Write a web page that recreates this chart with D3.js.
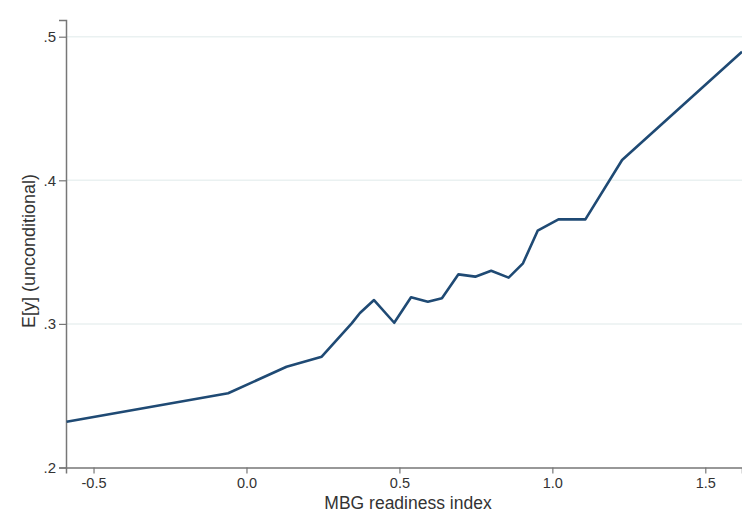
<!DOCTYPE html>
<html>
<head>
<meta charset="utf-8">
<script src="https://cdn.jsdelivr.net/npm/d3@7"></script>
<style>
  html, body { margin: 0; padding: 0; background: #fff; }
  svg { display: block; }
  text { font-family: "Liberation Sans", Arial, sans-serif; fill: #333; }
</style>
</head>
<body>
<svg id="chart" width="742" height="512"></svg>
<script>
// Data
const xValues = [-0.588, -0.060, 0.131, 0.246, 0.344, 0.371, 0.417, 0.483, 0.538, 0.593, 0.639, 0.693, 0.748, 0.800, 0.857, 0.904, 0.952, 1.020, 1.108, 1.228, 1.620];
const yValues = [0.2319, 0.2517, 0.2702, 0.2772, 0.3004, 0.3076, 0.3166, 0.3008, 0.3185, 0.3155, 0.3178, 0.3345, 0.3329, 0.3370, 0.3322, 0.3422, 0.3649, 0.3728, 0.3728, 0.4141, 0.4896];
const xTicks = [-0.5, 0.0, 0.5, 1.0, 1.5];
const xTickLabels = ["-0.5", "0.0", "0.5", "1.0", "1.5"];
const yTicks = [0.2, 0.3, 0.4, 0.5];
const yTickLabels = [".2", ".3", ".4", ".5"];
const xTitle = "MBG readiness index";
const yTitle = "E[y] (unconditional)";

const svg = d3.select("#chart");
const mLeft = 66, mRight = 742, mBottom = 467.5, mTop = 20;

const x = d3.scaleLinear().domain([-0.59, 1.62]).range([mLeft, mRight]);
const y = d3.scaleLinear().domain([0.2, 0.2 + (mBottom - mTop) / 1436]).range([mBottom, mTop]);

// gridlines
svg.append("g").selectAll("line")
  .data(yTicks.slice(1))
  .join("line")
  .attr("x1", mLeft + 1).attr("x2", mRight)
  .attr("y1", d => y(d)).attr("y2", d => y(d))
  .attr("stroke", "#eaf1f1").attr("stroke-width", 1.5);

// x axis
const xAxis = d3.axisBottom(x).tickValues(xTicks)
  .tickFormat((d, i) => xTickLabels[i]).tickSize(6).tickPadding(4);
const gx = svg.append("g").attr("transform", `translate(0,${mBottom})`).call(xAxis);
gx.select(".domain").attr("stroke", "#777").attr("stroke-width", 1.5);
gx.selectAll(".tick line").attr("stroke", "#777").attr("stroke-width", 1.2);
gx.selectAll(".tick text").style("font-size", "14.5px").style("font-family", "'Liberation Sans', Arial, sans-serif").attr("fill", "#333");

// y axis
const yAxis = d3.axisLeft(y).tickValues(yTicks)
  .tickFormat((d, i) => yTickLabels[i]).tickSize(7).tickPadding(3);
const gy = svg.append("g").attr("transform", `translate(${mLeft},0)`).call(yAxis);
gy.select(".domain").attr("stroke", "#777").attr("stroke-width", 1.5);
gy.selectAll(".tick line").attr("stroke", "#777").attr("stroke-width", 1.2);
gy.selectAll(".tick text").style("font-size", "15px").style("font-family", "'Liberation Sans', Arial, sans-serif").attr("fill", "#333");

// line
const line = d3.line().x(d => x(d[0])).y(d => y(d[1]));
svg.append("path")
  .datum(xValues.map((v, i) => [v, yValues[i]]))
  .attr("d", line)
  .attr("fill", "none")
  .attr("stroke", "#1f4a74")
  .attr("stroke-width", 2.6)
  .attr("stroke-linejoin", "round");

// titles
svg.append("text")
  .attr("x", 408).attr("y", 508.5)
  .attr("text-anchor", "middle")
  .style("font-size", "17.5px")
  .text(xTitle);

svg.append("text")
  .attr("transform", "translate(35,251) rotate(-90)")
  .attr("text-anchor", "middle")
  .style("font-size", "18px")
  .text(yTitle);
</script>
</body>
</html>
